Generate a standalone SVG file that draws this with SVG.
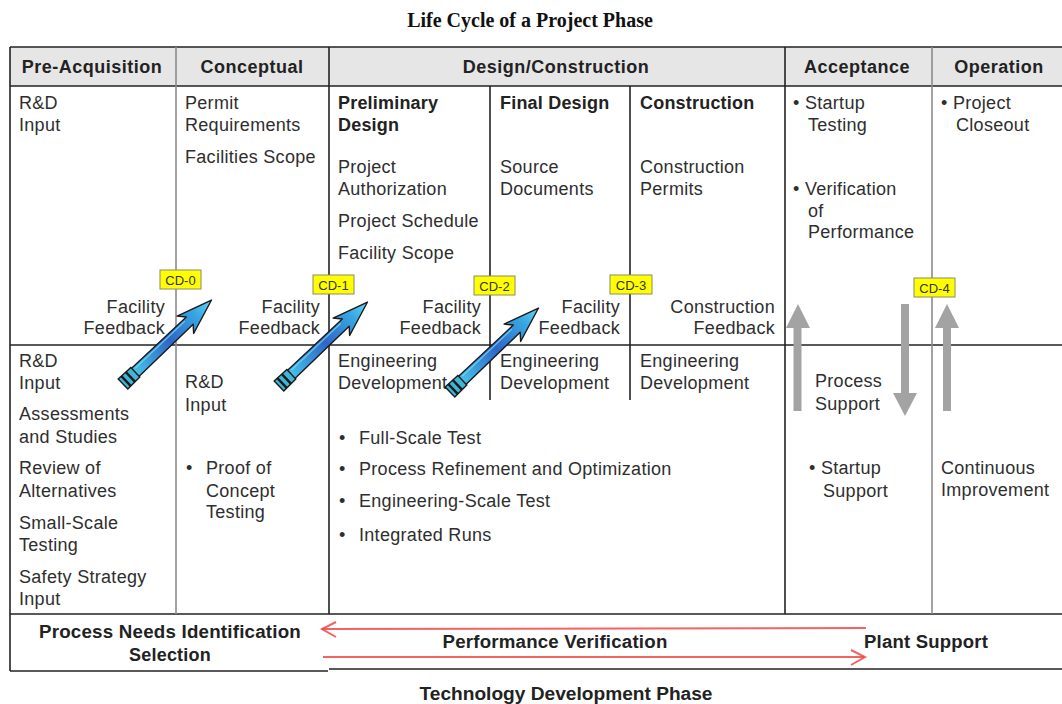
<svg xmlns="http://www.w3.org/2000/svg" width="1062" height="704" viewBox="0 0 1062 704">
<style>
.t{font-family:"Liberation Sans",Arial,sans-serif;font-size:18px;fill:#2e2e2e;letter-spacing:0.3px}
.b{font-family:"Liberation Sans",Arial,sans-serif;font-size:18px;font-weight:bold;fill:#222;letter-spacing:0.2px}
.h{font-family:"Liberation Sans",Arial,sans-serif;font-size:18px;font-weight:bold;fill:#222;text-anchor:middle;letter-spacing:0.5px}
.r{text-anchor:end}
.cd{fill:#ffff00;stroke:#8a8a6a;stroke-width:1}
.cdt{font-family:"Liberation Sans",Arial,sans-serif;font-size:13px;fill:#333;text-anchor:middle}
.dk{stroke:#222;stroke-width:1.6;fill:none}
.gy{stroke:#8c8c8c;stroke-width:1.6;fill:none}
.ga{fill:#a3a3a3}
.red{stroke:#f04848;stroke-width:2;fill:none;stroke-opacity:0.85}
</style>
<defs>
<linearGradient id="bl" x1="0" y1="0" x2="1" y2="0">
<stop offset="0" stop-color="#45c2ea"/>
<stop offset="0.45" stop-color="#2e66c8"/>
<stop offset="0.8" stop-color="#38a6e2"/>
<stop offset="1" stop-color="#62d6f4"/>
</linearGradient>
<g id="rocket">
<polygon points="16,-5.5 92,-5 86,-12 122,0 86,12 92,5 16,5.5" fill="url(#bl)" stroke="#1a1a1a" stroke-width="1.4" stroke-linejoin="round"/>
<polygon points="0,-7 17,-6.5 17,6.5 0,7" fill="#3fb6d8" stroke="#1a1a1a" stroke-width="1.4"/>
<rect x="3" y="-7" width="2.5" height="14" fill="#1a1a1a"/>
<rect x="9" y="-6.8" width="2.5" height="13.6" fill="#1a1a1a"/>
<line x1="20" y1="-3" x2="88" y2="-3" stroke="#7fe0f8" stroke-width="1.2" stroke-opacity="0.7"/>
</g>
</defs>
<rect width="1062" height="704" fill="#fff"/>

<text x="530" y="27" text-anchor="middle" style="font-family:'Liberation Serif','Times New Roman',serif;font-size:20px;font-weight:bold;fill:#111">Life Cycle of a Project Phase</text>

<g id="grid">
<rect x="10" y="47" width="1052" height="39" fill="#e6e6e6"/>
<line class="dk" x1="10" y1="47" x2="1062" y2="47"/>
<line class="dk" x1="10" y1="86" x2="1062" y2="86"/>
<line class="dk" x1="10" y1="345" x2="1062" y2="345"/>
<line class="dk" x1="10" y1="614" x2="1062" y2="614"/>
<line class="dk" x1="10" y1="47" x2="10" y2="671"/>
<line class="gy" x1="176" y1="47" x2="176" y2="614"/>
<line class="dk" x1="329" y1="47" x2="329" y2="614"/>
<line class="dk" x1="490" y1="86" x2="490" y2="400"/>
<line class="dk" x1="630" y1="86" x2="630" y2="400"/>
<line class="dk" x1="785" y1="47" x2="785" y2="614"/>
<line class="gy" x1="932" y1="47" x2="932" y2="614"/>
<line class="dk" x1="10" y1="671" x2="328" y2="671"/>
<line class="dk" x1="329" y1="669" x2="1062" y2="669"/>
</g>

<g id="headers">
<text class="h" x="92" y="73">Pre-Acquisition</text>
<text class="h" x="252" y="73">Conceptual</text>
<text class="h" x="556" y="73">Design/Construction</text>
<text class="h" x="857" y="73">Acceptance</text>
<text class="h" x="999" y="73">Operation</text>
</g>

<g id="preacq-top">
<text class="t" x="19" y="109">R&amp;D</text>
<text class="t" x="19" y="131">Input</text>
<text class="t r" x="165" y="313">Facility</text>
<text class="t r" x="165" y="334">Feedback</text>
</g>

<g id="conceptual-top">
<text class="t" x="185" y="109">Permit</text>
<text class="t" x="185" y="131">Requirements</text>
<text class="t" x="185" y="163">Facilities Scope</text>
<text class="t r" x="320" y="313">Facility</text>
<text class="t r" x="320" y="334">Feedback</text>
</g>

<g id="preliminary-design">
<text class="b" x="338" y="109">Preliminary</text>
<text class="b" x="338" y="131">Design</text>
<text class="t" x="338" y="173">Project</text>
<text class="t" x="338" y="195">Authorization</text>
<text class="t" x="338" y="227">Project Schedule</text>
<text class="t" x="338" y="259">Facility Scope</text>
<text class="t r" x="481" y="313">Facility</text>
<text class="t r" x="481" y="334">Feedback</text>
</g>

<g id="final-design">
<text class="b" x="500" y="109">Final Design</text>
<text class="t" x="500" y="173">Source</text>
<text class="t" x="500" y="195">Documents</text>
<text class="t r" x="620" y="313">Facility</text>
<text class="t r" x="620" y="334">Feedback</text>
</g>

<g id="construction">
<text class="b" x="640" y="109">Construction</text>
<text class="t" x="640" y="173">Construction</text>
<text class="t" x="640" y="195">Permits</text>
<text class="t r" x="775" y="313">Construction</text>
<text class="t r" x="775" y="334">Feedback</text>
</g>

<g id="acceptance-top">
<text class="t" x="793" y="109">• Startup</text>
<text class="t" x="808" y="131">Testing</text>
<text class="t" x="793" y="195">• Verification</text>
<text class="t" x="808" y="217">of</text>
<text class="t" x="808" y="238">Performance</text>
</g>

<g id="operation-top">
<text class="t" x="941" y="109">• Project</text>
<text class="t" x="956" y="131">Closeout</text>
</g>

<g id="preacq-bottom">
<text class="t" x="19" y="367">R&amp;D</text>
<text class="t" x="19" y="389">Input</text>
<text class="t" x="19" y="420">Assessments</text>
<text class="t" x="19" y="443">and Studies</text>
<text class="t" x="19" y="474">Review of</text>
<text class="t" x="19" y="497">Alternatives</text>
<text class="t" x="19" y="529">Small-Scale</text>
<text class="t" x="19" y="551">Testing</text>
<text class="t" x="19" y="583">Safety Strategy</text>
<text class="t" x="19" y="605">Input</text>
</g>

<g id="conceptual-bottom">
<text class="t" x="185" y="388">R&amp;D</text>
<text class="t" x="185" y="411">Input</text>
<text class="t" x="186" y="474">•</text>
<text class="t" x="206" y="474">Proof of</text>
<text class="t" x="206" y="497">Concept</text>
<text class="t" x="206" y="518">Testing</text>
</g>

<g id="design-bottom">
<text class="t" x="338" y="367">Engineering</text>
<text class="t" x="338" y="389">Development</text>
<text class="t" x="500" y="367">Engineering</text>
<text class="t" x="500" y="389">Development</text>
<text class="t" x="640" y="367">Engineering</text>
<text class="t" x="640" y="389">Development</text>
<text class="t" x="339" y="444">•</text>
<text class="t" x="359" y="444">Full-Scale Test</text>
<text class="t" x="339" y="475">•</text>
<text class="t" x="359" y="475">Process Refinement and Optimization</text>
<text class="t" x="339" y="507">•</text>
<text class="t" x="359" y="507">Engineering-Scale Test</text>
<text class="t" x="339" y="541">•</text>
<text class="t" x="359" y="541">Integrated Runs</text>
</g>

<g id="acceptance-bottom">
<text class="t" x="815" y="387">Process</text>
<text class="t" x="815" y="410">Support</text>
<text class="t" x="809" y="474">• Startup</text>
<text class="t" x="823" y="497">Support</text>
</g>

<g id="operation-bottom">
<text class="t" x="941" y="474">Continuous</text>
<text class="t" x="941" y="496">Improvement</text>
</g>

<g id="bottom-row">
<text class="b" x="170" y="638" text-anchor="middle" textLength="262" lengthAdjust="spacingAndGlyphs">Process Needs Identification</text>
<text class="b" x="170" y="661" text-anchor="middle">Selection</text>
<text class="b" x="555" y="648" text-anchor="middle" textLength="225" lengthAdjust="spacingAndGlyphs">Performance Verification</text>
<text class="b" x="926" y="648" text-anchor="middle" textLength="124" lengthAdjust="spacingAndGlyphs">Plant Support</text>
</g>

<text x="566" y="700" text-anchor="middle" textLength="293" lengthAdjust="spacingAndGlyphs" style="font-family:'Liberation Sans',Arial,sans-serif;font-size:18px;font-weight:bold;fill:#222">Technology Development Phase</text>

<g id="connectors">
<use href="#rocket" transform="translate(123,384) rotate(-43.5)"/>
<use href="#rocket" transform="translate(279,386) rotate(-43.5)"/>
<use href="#rocket" transform="translate(450,392) rotate(-43.5)"/>
<polygon class="ga" points="798,304 810,328 801.5,328 801.5,411 793.5,411 793.5,328 786,328"/>
<polygon class="ga" points="901,304 909,304 909,393 917,393 905,416 893,393 901,393"/>
<polygon class="ga" points="947,304 959,328 951,328 951,411 943,411 943,328 935,328"/>
<line class="red" x1="866" y1="628" x2="322" y2="629"/>
<polyline class="red" points="336,622 322,629 336,637"/>
<line class="red" x1="323" y1="657" x2="864" y2="657"/>
<polyline class="red" points="851,650 865,657 851,665"/>
</g>

<g id="cd-markers">
<g id="cd0"><rect class="cd" x="160" y="270" width="41" height="19"/><text class="cdt" x="180.5" y="284.5">CD-0</text></g>
<g id="cd1"><rect class="cd" x="313" y="275" width="41" height="19"/><text class="cdt" x="333.5" y="289.5">CD-1</text></g>
<g id="cd2"><rect class="cd" x="474" y="276" width="41" height="19"/><text class="cdt" x="494.5" y="290.5">CD-2</text></g>
<g id="cd3"><rect class="cd" x="610" y="275" width="42" height="19"/><text class="cdt" x="631" y="289.5">CD-3</text></g>
<g id="cd4"><rect class="cd" x="914" y="278" width="41" height="19"/><text class="cdt" x="934.5" y="292.5">CD-4</text></g>
</g>
</svg>
